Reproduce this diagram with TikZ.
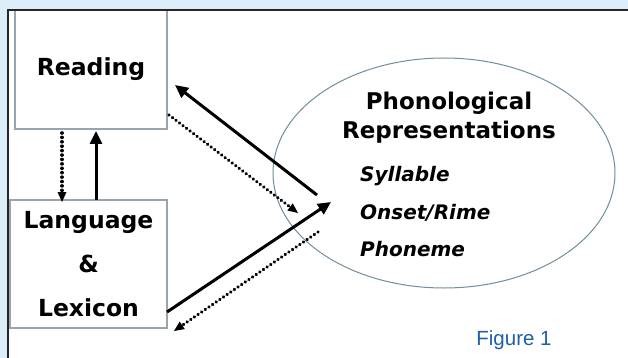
\documentclass[tikz,border=0pt]{standalone}
\usepackage{fontspec}
\setmainfont{DejaVu Sans}
\newfontfamily\figfont{Liberation Sans}
\usetikzlibrary{arrows.meta,shapes.geometric}
\definecolor{bgblue}{HTML}{DCEEF9}
\definecolor{boxgray}{HTML}{9AA4AC}
\definecolor{ellcol}{HTML}{6F8E9E}
\definecolor{figblue}{HTML}{1F5FA8}
\tikzset{
  panelline/.style={draw=black!85, line width=2.4pt},
  boxnode/.style={draw=boxgray, line width=1.6pt, fill=white, inner sep=0pt,
     font=\bfseries\fontsize{23.5}{44}\selectfont, align=center},
  ellnode/.style={ellipse, draw=ellcol, line width=1pt, inner sep=0pt},
  solidarrow/.style={line width=3pt, -{Triangle[length=13pt,width=12pt]}},
  dotarrow/.style={line width=3.6pt, line cap=round, dash pattern=on 0.01pt off 4.4pt, -{Triangle[length=10pt,width=9pt,line cap=butt,line width=0pt]}},
  titletext/.style={font=\bfseries\fontsize{23}{29}\selectfont, align=center, inner sep=0pt},
  itemtext/.style={font=\bfseries\itshape\fontsize{20}{37.5}\selectfont, align=left, inner sep=0pt},
}
\begin{document}
\begin{tikzpicture}[x=1pt,y=-1pt]
\useasboundingbox (0,0) rectangle (628,358);
\fill[bgblue] (0,0) rectangle (628,358);
\fill[white] (8,10) rectangle (628,358);

\node[boxnode, minimum width=152pt, minimum height=119pt] (reading) at (91,69.5) {Reading};
\node[boxnode, minimum width=157pt, minimum height=128pt] (lang) at (88.5,264) {Language\\\&\\Lexicon};
\draw[panelline] (8,358) -- (8,10) -- (628,10);

\node[ellnode, minimum width=342pt, minimum height=230pt] (phon) at (444,173) {};
\node[titletext] (title) at (449,118) {Phonological\\Representations};
\node[itemtext, anchor=west] (items) at (360,212) {Syllable\\Onset/Rime\\Phoneme};

\node[font=\figfont\fontsize{20.5}{24}\selectfont, text=figblue, inner sep=0pt] (fig) at (514,340) {Figure 1};

\coordinate (rdown) at (62,133);
\coordinate (ldown) at (62,202);
\coordinate (lup) at (96,200);
\coordinate (rup) at (96,131);
\coordinate (rtip) at (175,85);
\coordinate (pstart) at (317,195);
\coordinate (rdot) at (169,115);
\coordinate (pdot) at (298,213);
\coordinate (lex) at (167,312);
\coordinate (ptip) at (331,202);
\coordinate (pdot2) at (318,232);
\coordinate (lexdot) at (174,331);

\draw[dotarrow] (rdown) -- (ldown);
\draw[solidarrow] (lup) -- (rup);
\draw[solidarrow] (pstart) -- (rtip);
\draw[dotarrow] (rdot) -- (pdot);
\draw[solidarrow] (lex) -- (ptip);
\draw[dotarrow] (pdot2) -- (lexdot);
\end{tikzpicture}
\end{document}
